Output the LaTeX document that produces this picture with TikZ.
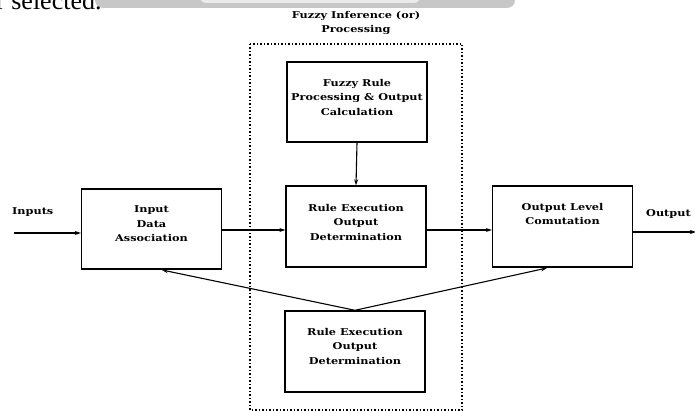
\documentclass[tikz,border=0pt]{standalone}
\usepackage{fontspec}
\setmainfont{DejaVu Serif}
\newfontfamily\widefont[FakeStretch=1.2]{DejaVu Serif}
\newfontfamily\pagefont{Liberation Serif}
\usetikzlibrary{arrows.meta}
\begin{document}
\begin{tikzpicture}[x=1pt,y=-1pt,
  blk/.style={draw,line width=1.4pt,minimum width=#1,inner sep=0pt},
  blk/.default=140pt,
  lbl/.style={font=\widefont\bfseries\fontsize{9.4}{14.5}\selectfont,align=center,inner sep=0pt},
  conn/.style={line width=1.1pt,-{Stealth[length=6pt,width=4pt]}},
  grp/.style={draw,dotted,line width=1.5pt}]
\useasboundingbox (0,0) rectangle (695,411);
\begin{scope}
\clip (0,0) rectangle (695,411);
% page remnants
\fill[black!22,rounded corners=8pt] (95,-20) rectangle (515,8);
\fill[black!8,rounded corners=6pt] (200,-20) rectangle (420,3);
\node[anchor=base west,inner sep=0pt,font=\pagefont\fontsize{26}{26}\selectfont] (pg) at (-4,10) {r selected.};
% group
\draw[grp] (250,44) rectangle (462,410);
\node[lbl] (gt) at (356,23) {Fuzzy Inference (or)\\Processing};
% boxes
\node[blk, minimum height=80pt] (top) at (357,102) {};
\node[lbl] at (357,97) {Fuzzy Rule\\Processing \& Output\\Calculation};
\node[blk, minimum height=81pt] (mid) at (356,226.5) {};
\node[lbl] at (356,222) {Rule Execution\\Output\\Determination};
\node[blk, minimum height=80pt] (inp) at (151.5,229) {};
\node[lbl] at (151.5,224) {Input\\Data\\Association};
\node[blk, minimum height=81pt] (out) at (562.5,226.5) {};
\node[lbl] at (562.5,214) {Output Level\\Comutation};
\node[blk, minimum height=81pt] (bot) at (355,351.5) {};
\node[lbl] at (355,346) {Rule Execution\\Output\\Determination};
% labels
\node[lbl,anchor=west] (il) at (12,212) {Inputs};
\node[lbl,anchor=west] (ol) at (646,214) {Output};
\coordinate (inS) at (14,233);
\coordinate (outE) at (696,232);
% connectors
\draw[conn] (inS) -- (inp.west |- inS);
\draw[conn] (inp.east |- 0,230) -- (mid.west |- 0,230);
\draw[conn] (mid.east |- 0,230) -- (out.west |- 0,230);
\draw[conn] (out.east |- outE) -- (outE);
\draw[conn] (top.south) -- (mid.north);
\draw[conn] (bot.north) -- (162,270);
\draw[conn] (bot.north) -- (547,268);
\end{scope}
\end{tikzpicture}
\end{document}
